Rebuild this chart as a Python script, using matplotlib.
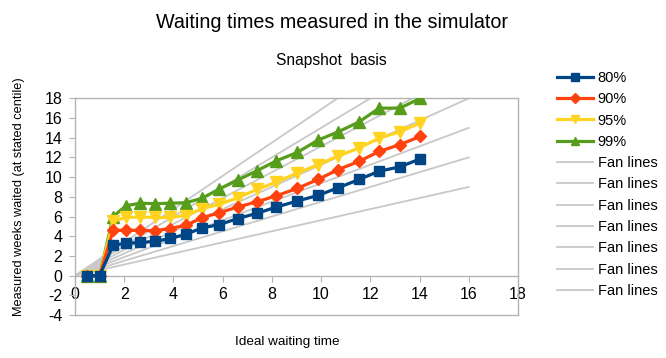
import matplotlib
matplotlib.use("Agg")
import matplotlib.pyplot as plt
import numpy as np

plt.rcParams['font.family'] = ['Liberation Sans', 'DejaVu Sans']
plt.rcParams['axes.unicode_minus'] = False

# ideal waiting time (x) shared by all measured series
ideal = [0.5, 1.0, 1.55, 2.08, 2.65, 3.26, 3.87, 4.51, 5.16, 5.87,
         6.61, 7.40, 8.18, 9.03, 9.87, 10.7, 11.54, 12.36, 13.2, 14.03]

p80 = [0, 0, 3.1, 3.27, 3.37, 3.47, 3.77, 4.2, 4.84, 5.18,
       5.79, 6.33, 6.96, 7.57, 8.14, 8.92, 9.76, 10.6, 11.04, 11.85]
p90 = [0, 0, 4.6, 4.6, 4.6, 4.56, 4.78, 5.11, 5.87, 6.39,
       6.96, 7.5, 8.1, 8.85, 9.76, 10.77, 11.6, 12.6, 13.3, 14.13]
p95 = [0, 0, 5.55, 5.9, 5.95, 5.9, 5.9, 6.1, 6.8, 7.25,
       7.9, 8.75, 9.5, 10.4, 11.25, 12.15, 12.95, 13.95, 14.6, 15.5]
p99 = [0, 0, 6.0, 7.1, 7.35, 7.3, 7.35, 7.4, 7.85, 8.8,
       9.7, 10.65, 11.65, 12.5, 13.75, 14.6, 15.6, 17.0, 17.0, 18.0]

# fan lines run from the origin to x=16
fan_x = [0, 16]
fan_end = [27, 24, 21, 18, 15, 12, 9]

series = [
    ('80%', p80, '#004586', 's', 7.5),
    ('90%', p90, '#ff420e', 'D', 6.0),
    ('95%', p95, '#ffd320', 'v', 8.0),
    ('99%', p99, '#579d1c', '^', 8.0),
]

GRAY = '#b3b3b3'

fig = plt.figure(figsize=(6.66, 3.58), dpi=100)
ax = fig.add_axes([75 / 666, 1 - 315 / 358, (518 - 75) / 666, (315 - 98.3) / 358])

for i, (label, ys, color, marker, ms) in enumerate(series):
    # 80% on top so its zero markers stay visible, like the original
    ax.plot(ideal, ys, '-', color=color, lw=2.3, marker=marker, ms=ms,
            mec=color, mfc=color, label=label, zorder=9 - i)

for end in fan_end:
    ax.plot(fan_x, [0, end], '-', color='#c8c8c8', lw=1.3,
            label='Fan lines', zorder=2)

ax.set_xlim(0, 18)
ax.set_ylim(-4, 18)
ax.set_xticks(np.arange(0, 19, 2))
ax.set_yticks(np.arange(-4, 19, 2))

ax.spines['bottom'].set_position(('data', 0))
for s in ax.spines.values():
    s.set_color(GRAY)
    s.set_linewidth(1.0)
ax.axhline(-4, color=GRAY, lw=1.0, clip_on=False, zorder=1)

ax.tick_params(axis='x', direction='out', length=4, color=GRAY, pad=4,
               labelsize=11.5)
ax.tick_params(axis='y', direction='out', length=4, color=GRAY, pad=5,
               labelsize=11.5)

fig.text(0.498, 1 - 22 / 358, 'Waiting times measured in the simulator',
         ha='center', va='center', fontsize=14.2)
fig.text(0.497, 1 - 60 / 358, 'Snapshot  basis', ha='center', va='center',
         fontsize=11.2)
fig.text(19 / 666, 1 - 197 / 358, 'Measured weeks waited (at stated centile)',
         rotation=90, ha='center', va='center', fontsize=9.2)
fig.text(287 / 666, 1 - 342 / 358, 'Ideal waiting time', ha='center',
         va='center', fontsize=9.7)

fig.legend(loc='upper left', bbox_to_anchor=(557 / 666, 1 - 71 / 358),
           frameon=False, fontsize=10.5, handlelength=2.5, handletextpad=0.3,
           borderpad=0, borderaxespad=0, labelspacing=0.5, markerscale=0.8)

fig.savefig('out.png', dpi=100)
